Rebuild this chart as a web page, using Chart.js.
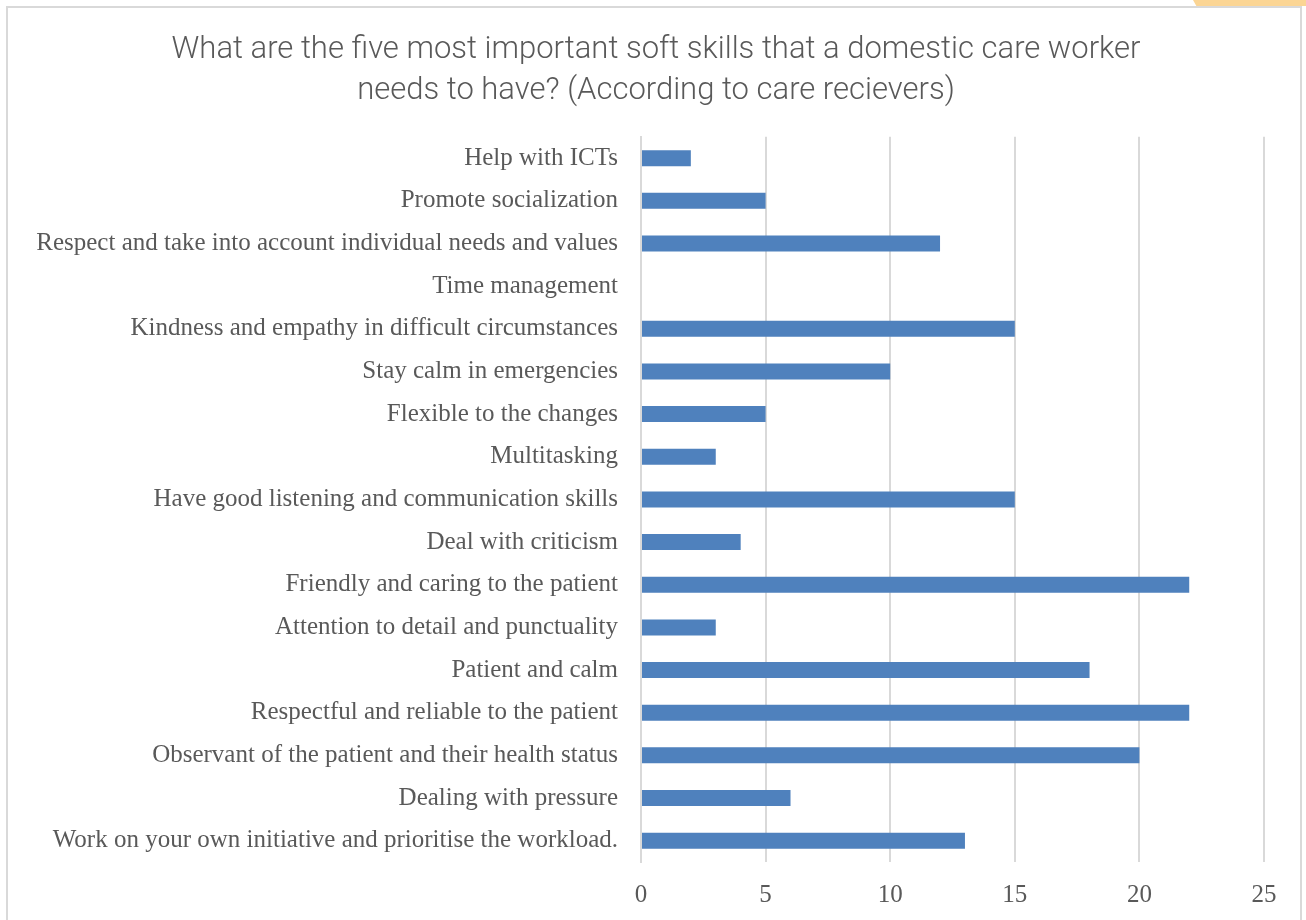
<!DOCTYPE html>
<html>
<head>
<meta charset="utf-8">
<script src="https://cdn.jsdelivr.net/npm/chart.js@4"></script>
<style>
  body { margin: 0; background: #fff; }
  #wrap { position: absolute; left: 0; top: 0; width: 1306px; height: 920px; }
  #frame { position: absolute; left: 6px; top: 6px; width: 1296px; height: 920px;
           border: 2px solid #d9d9d9; box-sizing: border-box; }
  #tab { position: absolute; left: 1193px; top: 0; width: 113px; height: 6px;
         background: #fbd594; clip-path: polygon(0 0, 100% 0, 100% 100%, 3% 100%); }
</style>
</head>
<body>
<div id="frame"></div>
<div id="tab"></div>
<div id="wrap"><canvas id="skills-chart" width="1306" height="920"></canvas></div>
<script>
// soft skills - according to care receivers
let skillLabels = [
  'Help with ICTs',
  'Promote socialization',
  'Respect and take into account individual needs and values',
  'Time management',
  'Kindness and empathy in difficult circumstances',
  'Stay calm in emergencies',
  'Flexible to the changes',
  'Multitasking',
  'Have good listening and communication skills',
  'Deal with criticism',
  'Friendly and caring to the patient',
  'Attention to detail and punctuality',
  'Patient and calm',
  'Respectful and reliable to the patient',
  'Observant of the patient and their health status',
  'Dealing with pressure',
  'Work on your own initiative and prioritise the workload.'
];
let skillCounts = [2, 5, 12, 0, 15, 10, 5, 3, 15, 4, 22, 3, 18, 22, 20, 6, 13];
let xTicks = [0, 5, 10, 15, 20, 25];

let titleLines = [
  'What are the five most important soft skills that a domestic care worker',
  'needs to have? (According to care recievers)'
];

const textColor = '#595959';
const gridColor = '#d9d9d9';

// title is centred on the whole frame, not on the canvas minus right padding
const shiftTitle = {
  id: 'shiftTitle',
  afterLayout(chart) {
    if (chart.titleBlock) chart.titleBlock.left = 48;
  }
};

let skillsCanvas = document.getElementById('skills-chart');
let skillsChart = new Chart(skillsCanvas, {
  type: 'bar',
  data: {
    labels: skillLabels,
    datasets: [{
      data: skillCounts,
      backgroundColor: '#4f81bd',
      borderWidth: 0,
      barPercentage: 0.75,
      categoryPercentage: 0.5
    }]
  },
  options: {
    indexAxis: 'y',
    responsive: false,
    animation: false,
    layout: { padding: { left: 0, right: 42, top: 0, bottom: 6 } },
    scales: {
      x: {
        min: 0,
        max: 25,
        afterBuildTicks: s => { s.ticks = xTicks.map(v => ({ value: v })); },
        afterFit: s => { s.height = 52; },
        border: { display: false },
        grid: { color: gridColor, lineWidth: 2, drawTicks: false },
        ticks: {
          padding: 18,
          color: textColor,
          font: { family: 'Liberation Serif', size: 25 }
        }
      },
      y: {
        afterFit: s => { s.width = 641; },
        border: { display: true, color: gridColor, width: 2 },
        grid: { display: false, drawTicks: false },
        ticks: {
          padding: 23,
          autoSkip: false,
          color: textColor,
          font: { family: 'Liberation Serif', size: 25 }
        }
      }
    },
    plugins: {
      legend: { display: false },
      tooltip: { enabled: false },
      title: {
        display: true,
        text: titleLines,
        color: textColor,
        font: { family: 'Roboto', size: 31, weight: 300, lineHeight: 1.32 },
        padding: { top: 30, bottom: 25 }
      }
    }
  },
  plugins: [shiftTitle]
});
</script>
</body>
</html>
